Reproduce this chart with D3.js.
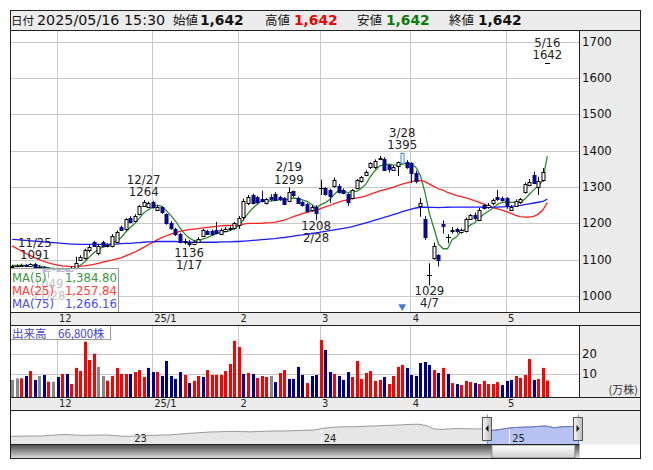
<!DOCTYPE html>
<html><head><meta charset="utf-8">
<script src="https://cdn.jsdelivr.net/npm/d3@7/dist/d3.min.js"></script>
<style>body{margin:0;background:#fff}svg{display:block}</style>
</head><body>
<svg id="chart" width="653" height="470"></svg>
<script>
// ---------------- DATA ----------------
const dates = ["11/18","11/19","11/20","11/21","11/22","11/25","11/26","11/27","11/28","11/29",
"12/2","12/3","12/4","12/5","12/6","12/9","12/10","12/11","12/12","12/13","12/16","12/17","12/18","12/19","12/20","12/23","12/24","12/25","12/26","12/27","12/30",
"1/6","1/7","1/8","1/9","1/10","1/14","1/15","1/16","1/17","1/20","1/21","1/22","1/23","1/24","1/27","1/28","1/29","1/30","1/31",
"2/3","2/4","2/5","2/6","2/7","2/10","2/12","2/13","2/14","2/17","2/18","2/19","2/20","2/21","2/25","2/26","2/27","2/28",
"3/3","3/4","3/5","3/6","3/7","3/10","3/11","3/12","3/13","3/14","3/17","3/18","3/19","3/21","3/24","3/25","3/26","3/27","3/28","3/31",
"4/1","4/2","4/3","4/4","4/7","4/8","4/9","4/10","4/11","4/14","4/15","4/16","4/17","4/18","4/21","4/22","4/23","4/24","4/25","4/28","4/30",
"5/1","5/2","5/7","5/8","5/9","5/12","5/13","5/14","5/15","5/16"];

const openP = [1082,1083,1083,1086,1082,1089,1080,1079,1068,1074,
1074,1068,1075,1068,1076,1100,1104,1126,1148,1118,1148,1138,1138,1150,1190,1184,1216,1206,1226,1248,1246,
1258,1238,1244,1226,1202,1184,1170,1148,1150,1143,1150,1166,1180,1180,1182,1172,1180,1184,1186,
1196,1218,1255,1278,1272,1268,1255,1273,1280,1272,1270,1262,1288,1271,1258,1253,1236,1246,
1296,1296,1292,1302,1304,1292,1280,1270,1296,1316,1333,1354,1354,1378,1378,1360,1347,1359,1367,1370,
1366,1338,1248,1213,1058,1104,1112,1198,1163,1178,1184,1177,1178,1213,1222,1210,1250,1244,1255,1272,1270,
1270,1238,1248,1258,1286,1305,1334,1301,1319,1642];

const highP = [1086,1087,1089,1088,1090,1091,1085,1082,1078,1078,
1076,1078,1077,1082,1108,1112,1130,1142,1152,1142,1152,1145,1170,1180,1194,1214,1220,1225,1250,1264,1260,
1262,1250,1247,1228,1206,1188,1174,1158,1154,1153,1162,1185,1182,1183,1204,1186,1190,1192,1204,
1220,1268,1278,1282,1276,1290,1270,1280,1286,1276,1272,1299,1290,1274,1262,1256,1250,1250,
1320,1300,1295,1326,1308,1296,1283,1294,1322,1330,1346,1368,1376,1386,1382,1362,1360,1370,1395,1374,
1368,1345,1270,1220,1090,1147,1115,1208,1170,1190,1188,1186,1216,1226,1230,1242,1254,1256,1268,1292,1274,
1272,1250,1266,1270,1312,1322,1342,1328,1352,1642];

const lowP = [1078,1079,1081,1080,1080,1078,1074,1068,1049,1068,
1066,1066,1066,1066,1072,1097,1100,1120,1136,1112,1134,1134,1134,1145,1180,1180,1200,1203,1222,1245,1243,
1240,1234,1226,1196,1182,1165,1145,1142,1136,1140,1147,1163,1168,1166,1170,1170,1176,1180,1182,
1185,1208,1250,1252,1252,1258,1252,1262,1262,1262,1250,1258,1272,1254,1246,1230,1232,1208,
1278,1276,1256,1298,1282,1280,1248,1266,1294,1312,1330,1350,1350,1374,1344,1340,1345,1330,1364,1350,
1311,1310,1218,1154,1029,1100,1081,1172,1145,1172,1172,1172,1175,1210,1208,1206,1238,1240,1250,1262,1260,
1240,1236,1245,1254,1282,1302,1308,1278,1315,1642];

const closeP = [1083,1083,1086,1082,1088,1080,1080,1070,1074,1074,
1068,1075,1070,1078,1092,1106,1126,1134,1138,1138,1138,1140,1166,1176,1183,1212,1205,1221,1247,1258,1255,
1244,1246,1230,1200,1186,1170,1150,1152,1142,1150,1158,1182,1172,1170,1174,1182,1185,1188,1200,
1216,1262,1272,1255,1258,1262,1266,1266,1265,1268,1254,1285,1277,1257,1250,1234,1246,1228,
1296,1280,1276,1318,1286,1284,1260,1292,1318,1328,1342,1365,1372,1380,1348,1350,1356,1368,1394,1356,
1339,1316,1257,1163,1058,1138,1099,1192,1163,1182,1178,1182,1212,1222,1214,1238,1242,1250,1264,1268,1264,
1248,1246,1262,1266,1308,1314,1311,1316,1341,1642];

// volume in 万株
const volume = [7.0,7.8,7.8,9.0,11.5,7.0,9.0,9.5,6.1,6.1,
8.5,10.0,10.0,4.9,13.1,11.5,26.4,17.1,20.3,13.6,9.0,6.6,9.0,13.1,10.0,10.0,10.0,11.0,12.0,8.5,13.1,
11.0,11.0,9.0,16.6,9.0,7.5,11.0,9.5,5.4,6.5,9.0,8.5,12.0,9.5,9.5,9.5,11.5,15.1,26.8,
23.7,10.0,10.5,10.0,8.0,9.0,8.5,9.0,5.9,10.5,12.0,7.5,7.5,13.6,9.5,5.4,9.0,9.5,
27.3,22.2,11.0,10.0,9.0,7.0,11.0,8.5,16.6,7.5,10.5,11.5,6.5,7.0,8.5,4.9,9.0,13.6,14.6,13.1,
9.5,9.0,15.6,16.1,14.6,12.0,10.5,13.1,10.0,5.4,4.9,4.4,6.5,5.9,5.4,4.9,6.5,4.9,4.9,5.9,4.4,
6.5,7.0,9.0,8.0,9.5,17.6,7.0,7.5,13.1,6.68];
// 1 = up vs previous close, -1 = down, 0 = unchanged
const volDir = [0,0,1,-1,1,-1,0,-1,1,0,
-1,1,-1,1,1,1,1,1,1,0,0,1,1,1,1,1,-1,1,1,1,-1,
-1,1,-1,-1,-1,-1,-1,1,-1,1,1,-1,1,1,1,1,1,1,1,
1,-1,1,-1,1,1,1,0,-1,1,1,-1,-1,-1,-1,1,-1,-1,
1,-1,-1,1,-1,-1,-1,1,1,1,1,1,1,1,-1,1,1,1,1,-1,
-1,-1,-1,-1,-1,1,-1,1,-1,1,-1,1,1,1,-1,1,1,1,1,1,-1,
-1,-1,1,1,1,1,-1,1,1,1];

// moving-average values before enough closes are in view
const ma5Head = [1084,1084,1084,1084];
const ma25Head = [1138,1131,1124,1117,1111,1105,1100,1095,1091,1088,1085,1083,1082,1081,1081,1082,1083,1085,1087,1090,1093,1096,1099,1102];
const ma75Head = [1156,1155,1154,1153,1152,1151,1150,1149,1148,1147,
1146,1145,1144,1143,1143,1142,1142,1142,1142,1142,
1142,1142,1143,1143,1144,1145,1145,1146,1147,1148,
1149,1149,1150,1150,1150,1150,1150,1149,1149,1148,
1148,1148,1148,1148,1148,1148,1149,1149,1149,1150,
1150,1151,1152,1153,1154,1155,1156,1157,1158,1160,
1161,1163,1165,1167,1168,1170,1172,1174,1176,1178,
1180,1182,1184,1186];
const maNames = ["MA(5)","MA(25)","MA(75)"];
const maLegendValues = [1384.80, 1257.84, 1266.16];

const priceTicks = [1000,1100,1200,1300,1400,1500,1600,1700];
const volTicks = [10,20];
const monthTickLabels = ["12","25/1","2","3","4","5"];
const extremes = [{i:5,t:"h"},{i:8,t:"l"},{i:29,t:"h"},{i:39,t:"l"},{i:61,t:"h"},{i:67,t:"l"},{i:86,t:"h"},{i:92,t:"l"},{i:118,t:"h"}];
const markIdx = 86;
const headerDate = "2025/05/16 15:30";

const navValues = [523,531,547,547,547,586,641,664,625,594,609,625,625,586,531,523,547,586,602,625,641,688,742,781,820,859,875,898,906,891,875,898,922,938,938,953,977,1000,1016,1133,1211,1250,1281,1266,1297,1328,1344,1375,1391,1422,1453,1469,1367,1094,1055,1109,1125,1117,1102,1094,977,1031,1133,1203,1234,1250,1297,1328,1188,1266,1289,1313];
const navYearLabels = ["23","24","25"];
const navYearPos = [15.1, 38.8, 62.4];   // position in navValues index units
const navWindow = [59.6, 71];            // selected range in navValues index units

// ---------------- LAYOUT ----------------
const W=653, H=470;
const L=10.5, PR=579.5, R=640.5, T=10.5, HB=30.5, MB=312.5, VT=325.5, VB=397.5, NT=410.5, NS=444.5, B=458.5;
const NUM = '"DejaVu Sans Condensed","DejaVu Sans",sans-serif';
const NUMW = '"DejaVu Sans",sans-serif';
const JP = '"Noto Sans CJK JP","Noto Sans",sans-serif';
const GRID = "#c8c8c8", PANEL="#ececec";
const UPC="#000", DNC="#0a0a84";

const svg = d3.select("#chart");
const defs = svg.append("defs");

const n = closeP.length;
const x = d3.scaleLinear().domain([0, n-1]).range([12.2, 12.2 + 4.535*(n-1)]);
const y = d3.scaleLinear().domain([1000,1700]).range([296,41.7]);
const yv = d3.scaleLinear().domain([0,20]).range([393.7,354.3]);

const sma = (k, head) => closeP.map((c,i) => i < k-1 ? head[i] : d3.mean(closeP.slice(i-k+1, i+1)));
const ma = [sma(5,ma5Head), sma(25,ma25Head), sma(75,ma75Head)];
const maLine = ["#2c8a2c","#ff2020","#1c1cff"];
const maText = ["#3a963a","#ff3c3c","#4a4aff"];

const monthIdx = dates.map((d,i)=>i).filter(i => i>0 && dates[i].split("/")[0] !== dates[i-1].split("/")[0]);

// backgrounds
svg.append("rect").attr("width",W).attr("height",H).attr("fill","#fff");
svg.append("rect").attr("x",L).attr("y",T).attr("width",R-L).attr("height",HB-T).attr("fill",PANEL);
[[HB,MB],[VT,VB],[NT,NS]].forEach(([a,b]) => svg.append("rect").attr("x",PR).attr("y",a).attr("width",R-PR).attr("height",b-a).attr("fill",PANEL));
[[MB,VT],[VB,NT]].forEach(([a,b]) => svg.append("rect").attr("x",L).attr("y",a).attr("width",R-L).attr("height",b-a).attr("fill",PANEL));

// ---------- main grid ----------
const grid = svg.append("g").attr("stroke",GRID).attr("stroke-width",1);
grid.selectAll(".hg").data(priceTicks).join("line")
  .attr("x1",L).attr("x2",PR).attr("y1",d=>Math.round(y(d))+0.5).attr("y2",d=>Math.round(y(d))+0.5);
grid.selectAll(".vg").data(monthIdx).join("line")
  .attr("x1",d=>Math.round(x(d))-0.5).attr("x2",d=>Math.round(x(d))-0.5).attr("y1",HB).attr("y2",MB);
const vgrid = svg.append("g").attr("stroke",GRID);
vgrid.selectAll("line.h").data(volTicks).join("line")
  .attr("x1",L).attr("x2",PR).attr("y1",d=>Math.round(yv(d))+0.5).attr("y2",d=>Math.round(yv(d))+0.5);
vgrid.selectAll("line.v").data(monthIdx).join("line").attr("class","v")
  .attr("x1",d=>Math.round(x(d))-0.5).attr("x2",d=>Math.round(x(d))-0.5).attr("y1",VT).attr("y2",VB);

// ---------- MA lines ----------
const plot = svg.append("g");
plot.append("defs").append("clipPath").attr("id","mclip").append("rect").attr("x",L).attr("y",HB).attr("width",PR-L).attr("height",MB-HB);
const lineGen = d3.line().x((d,i)=>x(i)).y(d=>y(d));
const cand = plot.append("g").attr("clip-path","url(#mclip)");
ma.forEach((s,k)=>{
  cand.append("path").datum(s).attr("d",lineGen).attr("fill","none").attr("stroke",maLine[k]).attr("stroke-width",1.3);
});

// ---------- candles ----------
const cdata = closeP.map((c,i)=>({i,o:openP[i],h:highP[i],l:lowP[i],c}));
const colOf = d => d.i===markIdx ? "#3a8cf0" : (d.c>d.o ? UPC : d.c<d.o ? DNC : "#000");
const fillOf = d => d.i===markIdx ? "#fff" : (d.c>d.o ? "#fff" : d.c<d.o ? DNC : "#000");
const cx = d => Math.round(x(d.i))+0.5;
const cg = cand.selectAll("g.c").data(cdata).join("g");
cg.append("line").attr("x1",cx).attr("x2",cx).attr("y1",d=>y(d.h)).attr("y2",d=>y(d.l)).attr("stroke",colOf);
cg.filter(d=>d.o!==d.c).append("rect")
  .attr("x",d=>cx(d)-1.5).attr("width",3)
  .attr("y",d=>Math.round(y(Math.max(d.o,d.c)))+0.5)
  .attr("height",d=>Math.max(1, Math.round(y(Math.min(d.o,d.c)))-Math.round(y(Math.max(d.o,d.c)))))
  .attr("fill",fillOf).attr("stroke",colOf);
cg.filter(d=>d.o===d.c).append("line")
  .attr("x1",d=>cx(d)-2.5).attr("x2",d=>cx(d)+2.5)
  .attr("y1",d=>Math.round(y(d.c))+0.5).attr("y2",d=>Math.round(y(d.c))+0.5).attr("stroke",colOf);

// ---------- high / low labels ----------
const lab = svg.append("g").attr("font-family",NUM).attr("font-size",13).attr("fill","#222").attr("text-anchor","middle");
extremes.forEach(e=>{
  const xx = x(e.i);
  if(e.t==="h"){
    const yy = y(highP[e.i]);
    lab.append("text").attr("x",xx).attr("y",yy-16).text(dates[e.i]);
    lab.append("text").attr("x",xx).attr("y",yy-3.8).text(highP[e.i]);
  } else {
    const yy = y(lowP[e.i]);
    lab.append("text").attr("x",xx).attr("y",yy+10).text(lowP[e.i]);
    lab.append("text").attr("x",xx).attr("y",yy+22).text(dates[e.i]);
  }
});
// event marker
svg.append("path").attr("d",d3.symbol(d3.symbolTriangle,26)()).attr("fill","#3a7fe0")
  .attr("transform",`translate(${x(markIdx)},306.5) rotate(180)`);

// ---------- MA legend ----------
const lg = svg.append("g");
lg.append("rect").attr("x",L).attr("y",268.5).attr("width",108).attr("height",MB-268.5)
  .attr("fill","#fff").attr("fill-opacity",0.72).attr("stroke","#9a9a9a");
maNames.forEach((nm,k)=>{
  const by = 281.5 + k*13.2;
  lg.append("text").attr("x",12).attr("y",by).attr("font-family",NUM).attr("font-size",13).attr("fill",maText[k]).text(nm);
  lg.append("text").attr("x",117).attr("y",by).attr("text-anchor","end").attr("font-family",NUM).attr("font-size",13).attr("fill",maText[k]).text(d3.format(",.2f")(maLegendValues[k]));
});

// ---------- price axis ----------
const ax = svg.append("g").attr("transform",`translate(${PR},0)`)
  .call(d3.axisRight(y).tickValues(priceTicks).tickSize(0).tickPadding(2.5).tickFormat(d3.format("d")));
ax.select(".domain").remove();
ax.selectAll("text").attr("font-family",NUM).attr("font-size",13).attr("fill","#111").attr("dy","0.28em");

// ---------- volume ----------
svg.append("defs").append("clipPath").attr("id","vclip").append("rect").attr("x",L).attr("y",VT).attr("width",PR-L).attr("height",VB-VT);
const vg = svg.append("g").attr("clip-path","url(#vclip)");
vg.selectAll("rect").data(volume).join("rect")
  .attr("x",(d,i)=>Math.round(x(i))-1).attr("width",3)
  .attr("y",d=>yv(d)).attr("height",d=>VB-yv(d))
  .attr("fill",(d,i)=>volDir[i]>0?"#ff0000":volDir[i]<0?"#000090":"#888");
const vax = svg.append("g").attr("transform",`translate(${PR},0)`)
  .call(d3.axisRight(yv).tickValues(volTicks).tickSize(0).tickPadding(2.5));
vax.select(".domain").remove();
vax.selectAll("text").attr("font-family",NUM).attr("font-size",13).attr("fill","#111").attr("dy","0.28em");
svg.append("text").attr("x",638).attr("y",394).attr("text-anchor","end").attr("font-family",JP).attr("font-size",11).attr("fill","#333").text("(万株)");
// volume label box
svg.append("rect").attr("x",L).attr("y",VT).attr("width",100).attr("height",14).attr("fill","#fff").attr("fill-opacity",0.8).attr("stroke","#9a9a9a");
svg.append("text").attr("x",12).attr("y",337.5).attr("font-family",JP).attr("font-size",11.5).attr("fill","#4646c8")
  .text("出来高\u3000" + d3.format(",")(Math.round(volume[n-1]*10000)) + "株");

// ---------- month bands ----------
[MB, VB].forEach(top=>{
  const a = svg.append("g").attr("transform",`translate(0,${top})`)
    .call(d3.axisBottom(x).tickValues(monthIdx).tickSize(0).tickPadding(0).tickFormat((d,k)=>monthTickLabels[k]));
  a.select(".domain").remove();
  a.selectAll("text").attr("text-anchor","start").attr("x",1).attr("y",2).attr("dy","0.71em")
    .attr("font-family",NUM).attr("font-size",11).attr("fill","#222");
});

// ---------- navigator ----------
const nx = d3.scaleLinear().domain([0, navValues.length-1]).range([L, 578]);
const ny = d3.scaleLinear().domain([0,2500]).range([443,411]);
const navArea = d3.area().x((d,i)=>nx(i)).y0(NS).y1(d=>ny(d));
const navLine = d3.line().x((d,i)=>nx(i)).y(d=>ny(d));
svg.append("path").datum(navValues).attr("d",navArea).attr("fill","#e6e6e6");
defs.append("clipPath").attr("id","wclip").append("rect").attr("x",nx(navWindow[0])).attr("y",NT).attr("width",nx(navWindow[1])-nx(navWindow[0])).attr("height",NS-NT);
svg.append("path").datum(navValues).attr("d",navArea).attr("fill","#b6c2f4").attr("clip-path","url(#wclip)");
navYearPos.forEach((p,k)=>{
  svg.append("line").attr("x1",Math.round(nx(p))+0.5).attr("x2",Math.round(nx(p))+0.5).attr("y1",NT).attr("y2",NS).attr("stroke","#fff");
  svg.append("text").attr("x",nx(p)+3).attr("y",442).attr("font-family",NUM).attr("font-size",11).attr("fill","#222").text(navYearLabels[k]);
});
svg.append("path").datum(navValues).attr("d",navLine).attr("fill","none").attr("stroke","#9a9a9a");
svg.append("path").datum(navValues).attr("d",navLine).attr("fill","none").attr("stroke","#6d74c8").attr("clip-path","url(#wclip)");
[navWindow[0],navWindow[1]].forEach(p=>{
  svg.append("line").attr("x1",Math.round(nx(p))+0.5).attr("x2",Math.round(nx(p))+0.5).attr("y1",NT+4).attr("y2",NS).attr("stroke","#29a9f0");
});
// handles
const hg = defs.append("linearGradient").attr("id","hgr").attr("x1",0).attr("x2",1);
hg.append("stop").attr("offset",0).attr("stop-color","#f8f8f8");
hg.append("stop").attr("offset",1).attr("stop-color","#b8b8b8");
[navWindow[0],navWindow[1]].forEach((p,k)=>{
  const hx = Math.round(nx(p))-4.5;
  svg.append("rect").attr("x",hx).attr("y",417.5).attr("width",9).attr("height",23).attr("fill","url(#hgr)").attr("stroke","#555");
  const cxh = hx+4.5;
  svg.append("path").attr("d", k===0 ? `M${cxh+1.5},425 L${cxh-1.5},428.5 L${cxh+1.5},432 Z` : `M${cxh-1.5},425 L${cxh+1.5},428.5 L${cxh-1.5},432 Z`).attr("fill","#111");
});
// scrollbar
const sg = defs.append("linearGradient").attr("id","sgr").attr("x1",0).attr("x2",0).attr("y1",0).attr("y2",1);
sg.append("stop").attr("offset",0).attr("stop-color","#4a4a4a");
sg.append("stop").attr("offset",0.55).attr("stop-color","#9a9a9a");
sg.append("stop").attr("offset",1).attr("stop-color","#e0e0e0");
const tg = defs.append("linearGradient").attr("id","tgr").attr("x1",0).attr("x2",0).attr("y1",0).attr("y2",1);
tg.append("stop").attr("offset",0).attr("stop-color","#ffffff");
tg.append("stop").attr("offset",1).attr("stop-color","#cfcfcf");
svg.append("rect").attr("x",L).attr("y",NS).attr("width",PR-L).attr("height",B-NS).attr("fill","url(#sgr)");
svg.append("rect").attr("x",nx(navWindow[0])+5).attr("y",NS+0.5).attr("width",83).attr("height",B-NS-1).attr("fill","url(#tgr)").attr("stroke","#888");

// ---------- header ----------
const hd = svg.append("g");
const hy = 25;
const hItems = [
  {x:11, t:"日付", f:JP, c:"#111", w:"normal", s:11.5},
  {x:37, t:headerDate, f:NUMW, c:"#111", w:"normal", s:14.3},
  {x:173, t:"始値", f:JP, c:"#111", w:"normal", s:12.5},
  {x:200, t:d3.format(",")(openP[n-1]), f:NUMW, c:"#111", w:"bold", s:13.8},
  {x:265, t:"高値", f:JP, c:"#111", w:"normal", s:12.5},
  {x:294, t:d3.format(",")(highP[n-1]), f:NUMW, c:"#ee0000", w:"bold", s:13.8},
  {x:357, t:"安値", f:JP, c:"#111", w:"normal", s:12.5},
  {x:386, t:d3.format(",")(lowP[n-1]), f:NUMW, c:"#0a7a0a", w:"bold", s:13.8},
  {x:449, t:"終値", f:JP, c:"#111", w:"normal", s:12.5},
  {x:478, t:d3.format(",")(closeP[n-1]), f:NUMW, c:"#111", w:"bold", s:13.8}
];
hItems.forEach(it => hd.append("text").attr("x",it.x).attr("y",hy).attr("font-family",it.f).attr("font-size",it.s)
  .attr("font-weight",it.w).attr("fill",it.c).text(it.t));

// ---------- frame lines ----------
const fr = svg.append("g").attr("stroke","#222").attr("stroke-width",1).attr("fill","none");
fr.append("rect").attr("x",L).attr("y",T).attr("width",R-L).attr("height",B-T);
[HB, MB, VT, VB, NT].forEach(v => fr.append("line").attr("x1",L).attr("x2",R).attr("y1",v).attr("y2",v));
fr.append("line").attr("x1",PR).attr("x2",PR).attr("y1",HB).attr("y2",MB);
fr.append("line").attr("x1",PR).attr("x2",PR).attr("y1",VT).attr("y2",VB);
fr.append("line").attr("x1",L).attr("x2",PR).attr("y1",NS).attr("y2",NS);
</script>
</body></html>
